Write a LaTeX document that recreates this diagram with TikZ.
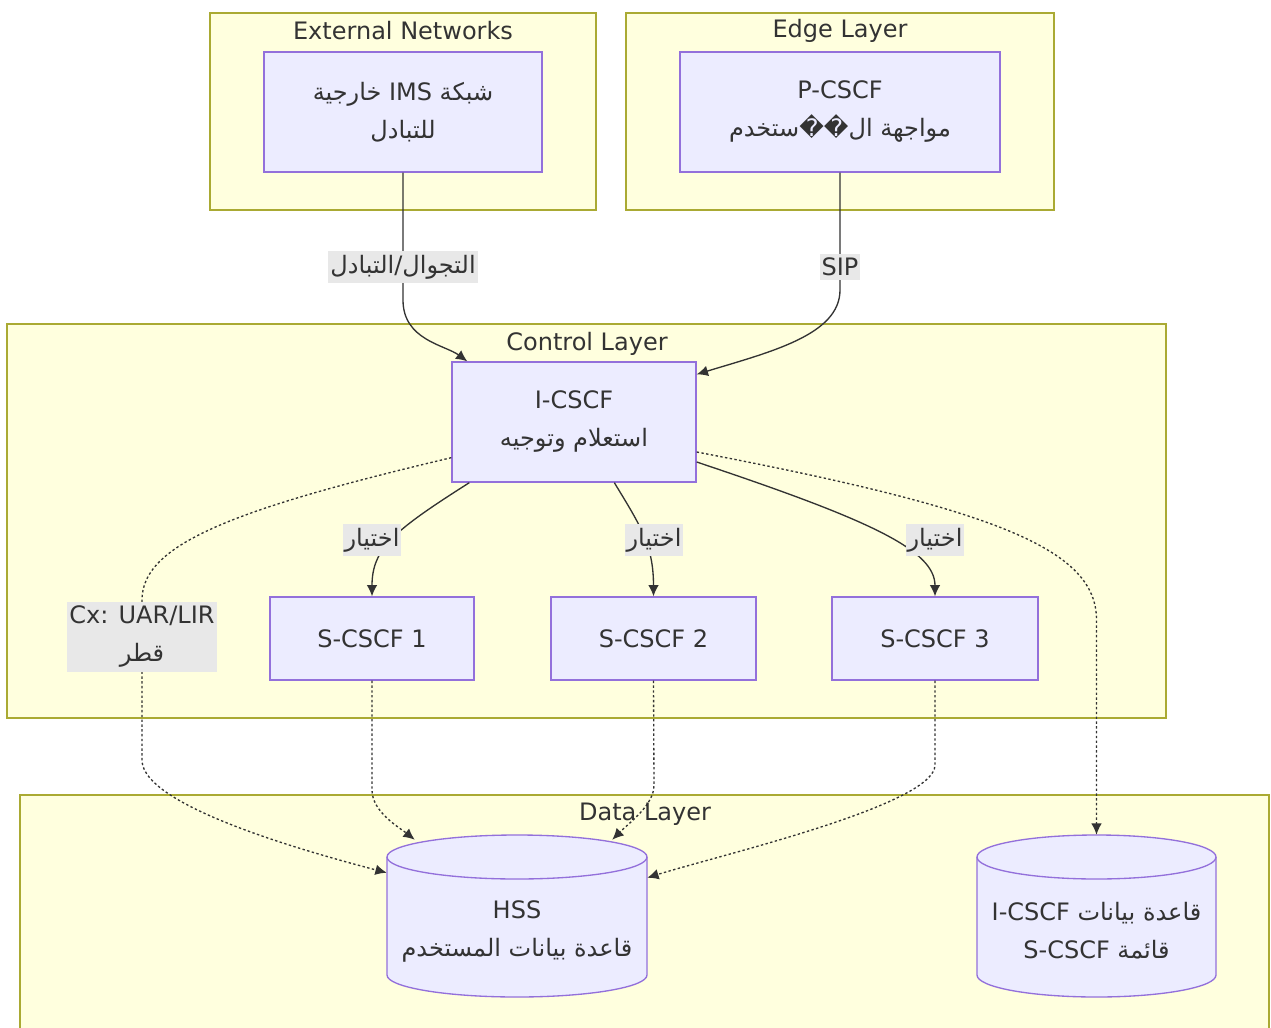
\documentclass[tikz,border=0pt]{standalone}
\usepackage{fontspec}
\setmainfont{DejaVu Sans}
\newfontfamily\arabicfont[Script=Arabic]{DejaVu Sans}
\TeXXeTstate=1
\usetikzlibrary{arrows.meta,calc}
\definecolor{clfill}{HTML}{FFFFDE}
\definecolor{clline}{HTML}{AAAA33}
\definecolor{ndfill}{HTML}{ECECFF}
\definecolor{ndline}{HTML}{9370DB}
\definecolor{txt}{HTML}{333333}
\definecolor{lblbg}{HTML}{E8E8E8}
\newcommand\ar[1]{{\arabicfont\beginR #1\endR}}
\tikzset{
  cluster/.style={draw=clline, fill=clfill, line width=1pt, inner sep=0pt},
  ttl/.style={text=txt, inner sep=0pt},
  box/.style={draw=ndline, fill=ndfill, line width=1pt, align=center, text=txt, inner sep=0pt},
  cylbox/.style={draw=none, inner sep=0pt},
  cyl/.style={draw=ndline, fill=ndfill, line width=1pt},
  cyltext/.style={align=center, text=txt, inner sep=0pt},
  lbl/.style={fill=lblbg, text=txt, align=center, inner xsep=1.5pt, inner ysep=3pt},
  edgeline/.style={draw=txt, line width=1pt, -{Latex[length=8.5pt,width=8pt]}},
  dotline/.style={edgeline, dash pattern=on 1.8pt off 1.8pt}
}
\begin{document}
\begin{tikzpicture}[x=0.75pt,y=-0.75pt, font=\fontsize{18pt}{28.5pt}\selectfont]
\useasboundingbox (0,0) rectangle (1271,1028);
\fill[white] (0,0) rectangle (1271,1028);
\clip (0,0) rectangle (1271,1028);

% clusters
\node[cluster, minimum width=386*0.75pt, minimum height=197*0.75pt] (extc) at (403,111.5) {};
\node[cluster, minimum width=428*0.75pt, minimum height=197*0.75pt] (edgec) at (840,111.5) {};
\node[cluster, minimum width=1159*0.75pt, minimum height=394*0.75pt] (ctrlc) at (586.5,521) {};
\node[cluster, minimum width=1249*0.75pt, minimum height=260*0.75pt] (datac) at (644.5,925) {};

\node[ttl] (extt) at (403,31) {External Networks};
\node[ttl] (edget) at (840,31) {Edge Layer};
\node[ttl] (ctrlt) at (587,344) {Control Layer};
\node[ttl] (datat) at (645,814) {Data Layer};

% nodes
\node[box, minimum width=278*0.75pt, minimum height=120*0.75pt] (ext) at (403,112)
  {\ar{شبكة \beginL IMS\endL{} خارجية}\\ \ar{للتبادل}};
\node[box, minimum width=320*0.75pt, minimum height=120*0.75pt] (pcscf) at (840,112)
  {P-CSCF\\ \ar{مواجهة ال��ستخدم}};
\node[box, minimum width=244*0.75pt, minimum height=120*0.75pt] (icscf) at (574,422)
  {I-CSCF\\ \ar{استعلام وتوجيه}};
\node[box, minimum width=204*0.75pt, minimum height=83*0.75pt] (s1) at (372,638.5) {S-CSCF 1};
\node[box, minimum width=205*0.75pt, minimum height=83*0.75pt] (s2) at (653.5,638.5) {S-CSCF 2};
\node[box, minimum width=206*0.75pt, minimum height=83*0.75pt] (s3) at (935,638.5) {S-CSCF 3};

% cylinders
\node[cylbox, minimum width=260*0.75pt, minimum height=162*0.75pt] (hss) at (517,916) {};
\filldraw[cyl] (387,857) -- (387,975) arc[start angle=180,end angle=360,x radius=97.5pt,y radius=16.5pt]
  -- (647,857) arc[start angle=0,end angle=180,x radius=97.5pt,y radius=16.5pt] -- cycle;
\draw[cyl, fill=none] (387,857) arc[start angle=180,end angle=360,x radius=97.5pt,y radius=16.5pt];
\node[cyltext] (hsst) at (517,931) {HSS\\ \ar{قاعدة بيانات المستخدم}};

\node[cylbox, minimum width=239*0.75pt, minimum height=162*0.75pt] (db) at (1096.5,916) {};
\filldraw[cyl] (977,857) -- (977,975) arc[start angle=180,end angle=360,x radius=89.625pt,y radius=16.5pt]
  -- (1216,857) arc[start angle=0,end angle=180,x radius=89.625pt,y radius=16.5pt] -- cycle;
\draw[cyl, fill=none] (977,857) arc[start angle=180,end angle=360,x radius=89.625pt,y radius=16.5pt];
\node[cyltext] (dbt) at (1096.5,931) {\ar{قاعدة بيانات \beginL I-CSCF\endL}\\ \ar{قائمة \beginL S-CSCF\endL}};

% edges
\draw[edgeline] (ext.south) -- (403,300) .. controls (403,340) and (445,345) .. ($(icscf.north west)+(16,0)$);
\draw[edgeline] (pcscf.south) -- (840,290) .. controls (840,335) and (770,352) .. ($(icscf.north east)+(0,13)$);
\draw[edgeline] ($(icscf.south west)+(18,0)$) .. controls (395,530) and (372,548) .. (s1.north);
\draw[edgeline] ($(icscf.south west)+(163,0)$) .. controls (640,525) and (653.5,545) .. (s2.north);
\draw[edgeline] ($(icscf.east)+(0,40)$) .. controls (870,520) and (935,550) .. (s3.north);

\draw[dotline] ($(icscf.south west)+(0,-25)$) .. controls (230,510) and (142,545) .. (142,600)
  -- (142,760) .. controls (142,805) and (300,850) .. ($(hss.north west)+(0,38)$);
\draw[dotline] ($(icscf.east)+(0,30)$) .. controls (1000,510) and (1096.5,550) .. (1096.5,620) -- (db.north);
\draw[dotline] (s1.south) -- (372,790) .. controls (372,812) and (400,828) .. ($(hss.north west)+(28,5)$);
\draw[dotline] (s2.south) -- (654,785) .. controls (654,805) and (630,822) .. ($(hss.north east)+(-35,5)$);
\draw[dotline] (s3.south) -- (935,765) .. controls (935,805) and (720,855) .. ($(hss.north east)+(0,43)$);

% labels
\node[lbl] (l1) at (403,267) {\ar{التجوال/التبادل}};
\node[lbl] (l2) at (840,267) {SIP};
\node[lbl] (l3) at (372,540) {\ar{اختيار}};
\node[lbl] (l4) at (654,540) {\ar{اختيار}};
\node[lbl] (l5) at (935,540) {\ar{اختيار}};
\node[lbl] (l6) at (142,637) {Cx: UAR/LIR\\ \ar{قطر}};
\end{tikzpicture}
\end{document}
